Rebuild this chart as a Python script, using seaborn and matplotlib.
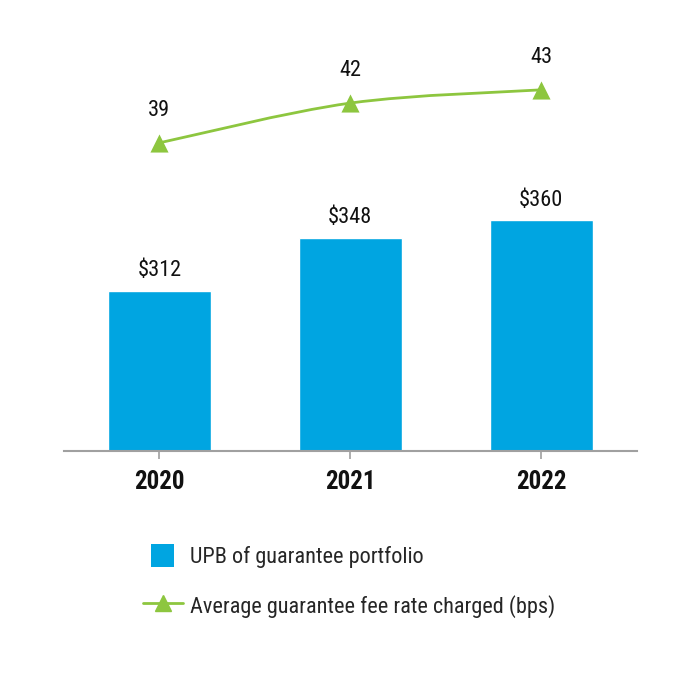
import matplotlib
matplotlib.use("Agg")
import matplotlib.pyplot as plt
from matplotlib import font_manager as fm
from matplotlib.path import Path
from matplotlib.patches import PathPatch, Patch, Rectangle
from matplotlib.lines import Line2D
from matplotlib.legend_handler import HandlerPatch
import seaborn as sns
import pandas as pd
import numpy as np

years = ["2020", "2021", "2022"]
upb = [312, 348, 360]
upb_labels = ["$312", "$348", "$360"]
fee_bps = [39, 42, 43]
fee_labels = ["39", "42", "43"]
legend_labels = ["UPB of guarantee portfolio", "Average guarantee fee rate charged (bps)"]

BLUE = "#00A5E1"
GREEN = "#8DC63F"
GREY = "#A0A0A0"

sns.set_style("white")
available = {f.name for f in fm.fontManager.ttflist}
cands = ["Roboto Condensed", "Archivo Narrow", "PT Sans Narrow",
         "Liberation Sans Narrow", "Barlow Semi Condensed"]
fams = [c for c in cands if c in available][:1] + ["DejaVu Sans"]
plt.rcParams["font.family"] = fams

fig = plt.figure(figsize=(7, 7), dpi=100)
ax = fig.add_axes([0.0914, 0.356, 0.818, 0.587])
df = pd.DataFrame({"year": years, "upb": upb})
sns.barplot(data=df, x="year", y="upb", color=BLUE, saturation=1, width=0.54, ax=ax)
ax.set_xlim(-0.5, 2.5)
ax.set_ylim(204, 482)
ax.set_xlabel("")
ax.set_ylabel("")
ax.set_yticks([])
for s in ["top", "right", "left"]:
    ax.spines[s].set_visible(False)
ax.spines["bottom"].set_color(GREY)
ax.spines["bottom"].set_linewidth(1.5)
ax.tick_params(axis="x", bottom=True, length=6, width=1.2, color=GREY, pad=8)
for lbl in ax.get_xticklabels():
    lbl.set_fontweight("bold")
    lbl.set_fontsize(18)
    lbl.set_color("#111111")
for i, (v, t) in enumerate(zip(upb, upb_labels)):
    ax.annotate(t, (i, v), xytext=(0, 7), textcoords="offset points",
                ha="center", va="bottom", fontsize=16, color="#111111")

ax2 = ax.twinx()
ax2.set_ylim(15.75, 46.77)
ax2.set_yticks([])
for s in ax2.spines.values():
    s.set_visible(False)

# smooth curve through the points (Catmull-Rom as cubic Bezier)
xs = np.arange(len(fee_bps), dtype=float)
pts = np.column_stack([xs, np.array(fee_bps, dtype=float)])
verts = [tuple(pts[0])]
codes = [Path.MOVETO]
n = len(pts)
for i in range(n - 1):
    p0 = pts[max(i - 1, 0)]
    p1 = pts[i]
    p2 = pts[i + 1]
    p3 = pts[min(i + 2, n - 1)]
    c1 = p1 + (p2 - p0) / 6.0
    c2 = p2 - (p3 - p1) / 6.0
    verts += [tuple(c1), tuple(c2), tuple(p2)]
    codes += [Path.CURVE4] * 3
ax2.add_patch(PathPatch(Path(verts, codes), facecolor="none", edgecolor=GREEN, lw=2))
sns.scatterplot(x=xs, y=fee_bps, marker="^", s=170, color=GREEN, edgecolor=GREEN,
                linewidth=0, ax=ax2, zorder=5, legend=False)
ax2.set_xlim(-0.5, 2.5)
for i, (v, t) in enumerate(zip(fee_bps, fee_labels)):
    ax2.annotate(t, (i, v), xytext=(0, 16), textcoords="offset points",
                 ha="center", va="bottom", fontsize=16, color="#111111")


def make_square(legend, orig_handle, xdescent, ydescent, width, height, fontsize):
    side = 16.6
    return Rectangle((-xdescent + (width - side) / 2, -ydescent + (height - side) / 2),
                     side, side)


handles = [Patch(facecolor=BLUE, edgecolor="none"),
           Line2D([0], [0], color=GREEN, lw=2, marker="^", markersize=12)]
fig.legend(handles, legend_labels, loc="upper left", bbox_to_anchor=(0.191, 0.238),
           frameon=False, fontsize=16, handlelength=1.8, handleheight=1.4,
           handletextpad=0.35, labelspacing=1.1, borderaxespad=0,
           handler_map={Patch: HandlerPatch(patch_func=make_square)})

fig.savefig("out.png", dpi=100, facecolor="white")
